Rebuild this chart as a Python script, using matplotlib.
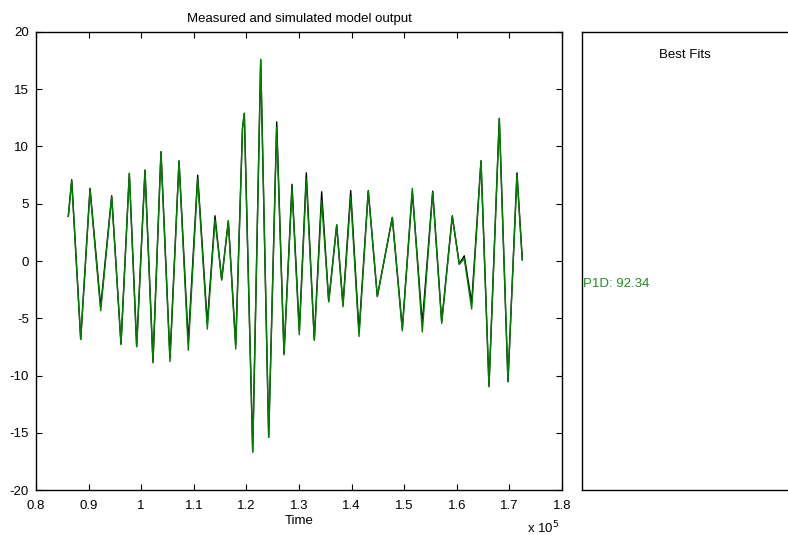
import matplotlib
matplotlib.use("Agg")
import matplotlib.pyplot as plt

plt.rcParams['font.family'] = ['Liberation Sans', 'DejaVu Sans']
plt.rcParams['axes.unicode_minus'] = False

# time samples (at peaks / troughs)
time = [86140, 86790, 88500, 90270, 92300, 94390, 96160, 97740, 99140,
        100720, 102240, 103760, 105470, 107190, 108950, 110740, 112570,
        114030, 115300, 116560, 117970, 119260, 119600, 121200, 122720,
        124240, 125760, 127150, 128670, 130060, 131390, 132910, 134310,
        135650, 137170, 138360, 139830, 141410, 143170, 144890, 147740,
        149640, 151540, 153440, 155420, 157130, 159140, 160470, 161420,
        162830, 164600, 166120, 168080, 169730, 171440, 172450]

measured = [3.9, 7.1, -6.85, 6.35, -4.0, 5.7, -7.25, 7.65, -7.45,
            7.95, -8.8, 9.55, -8.5, 8.75, -7.05, 7.5, -5.45,
            3.95, -1.65, 3.5, -7.35, 11.6, 12.9, -16.65, 17.6,
            -15.4, 12.15, -8.1, 6.7, -6.1, 7.7, -6.9, 6.05,
            -3.55, 3.15, -3.85, 6.15, -6.2, 6.15, -3.1, 3.8,
            -5.9, 6.05, -5.45, 6.1, -5.3, 3.95, -0.25, 0.45,
            -3.65, 8.75, -10.9, 12.45, -10.55, 7.7, 0.1]

p1d = [3.9, 7.0, -6.85, 6.2, -4.35, 5.6, -7.3, 7.65, -7.5,
       7.9, -8.9, 9.5, -8.8, 8.7, -7.8, 7.2, -5.95,
       3.6, -1.65, 3.5, -7.7, 11.6, 12.9, -16.7, 17.6,
       -15.4, 11.7, -8.2, 6.35, -6.45, 7.15, -6.9, 5.25,
       -3.55, 3.15, -4.0, 5.6, -6.6, 6.1, -3.1, 3.8,
       -6.1, 6.35, -6.2, 6.0, -5.45, 3.9, -0.3, 0.2,
       -4.2, 8.75, -11.0, 12.45, -10.5, 7.5, 0.1]

fit_label = "P1D: 92.34"
xticks = [80000, 90000, 100000, 110000, 120000, 130000, 140000, 150000, 160000, 170000, 180000]
yticks = [-20, -15, -10, -5, 0, 5, 10, 15, 20]

fig = plt.figure(figsize=(7.88, 5.35), dpi=100)
ax = fig.add_axes([36 / 788, 45 / 535, 526 / 788, 458 / 535])
ax.plot(time, measured, color='black', lw=1.0)
ax.plot(time, p1d, color=(0, 0.5, 0), lw=1.0)
ax.set_xlim(80000, 180000)
ax.set_ylim(-20, 20)
ax.set_xticks(xticks)
ax.set_xticklabels([f"{t / 1e5:g}" for t in xticks])
ax.set_yticks(yticks)
ax.tick_params(direction='in', top=True, right=True, length=4, labelsize=9.5)
ax.tick_params(axis='x', pad=7)
ax.tick_params(axis='y', pad=5)
ax.set_xlabel("Time", fontsize=9.5, labelpad=2)
ax.set_title("Measured and simulated model output", fontsize=9.5, pad=7)
ax.text(0.995, -0.065, "x 10$^5$", transform=ax.transAxes, ha='right', va='top', fontsize=9.5)
for s in ax.spines.values():
    s.set_linewidth(1.0)

# side panel with fit values
ax2 = fig.add_axes([582 / 788, 45 / 535, 210 / 788, 458 / 535])
ax2.set_xticks([])
ax2.set_yticks([])
ax2.set_xlim(0, 1)
ax2.set_ylim(0, 1)
for s in ax2.spines.values():
    s.set_linewidth(1.0)
ax2.text(0.49, 0.95, "Best Fits", ha='center', va='center', fontsize=9.5)
ax2.text(0.005, 0.45, fit_label, ha='left', va='center', fontsize=9.5, color='#1f8f1f')

fig.savefig("out.png", dpi=100)
